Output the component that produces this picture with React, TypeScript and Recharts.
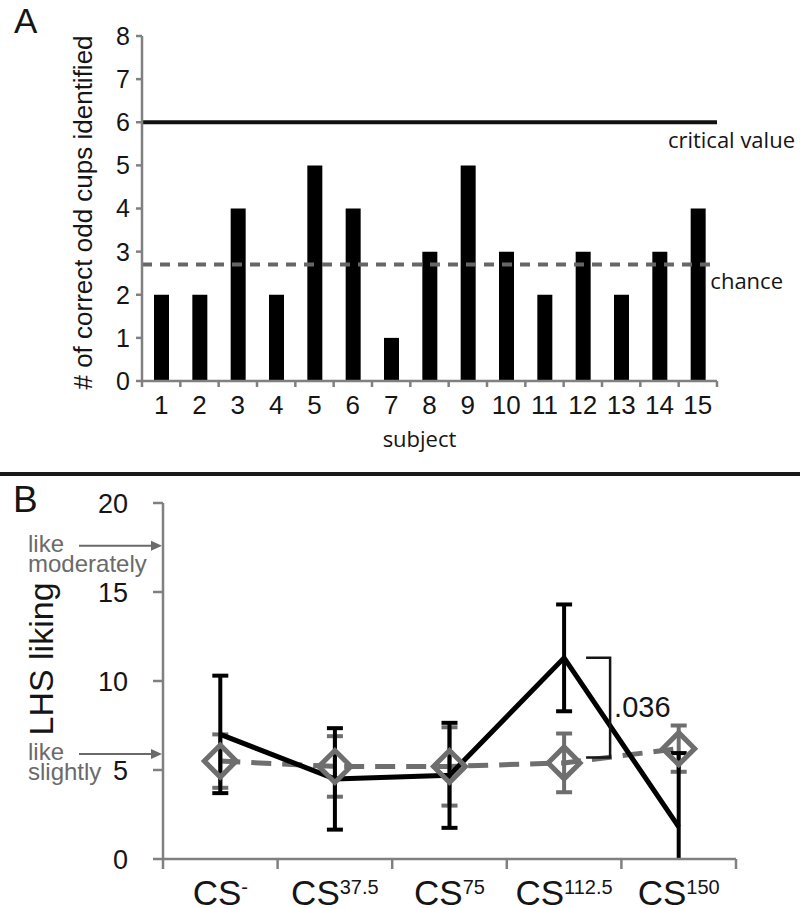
import React from 'react';
import {
  ComposedChart,
  Bar,
  Line,
  ErrorBar,
  XAxis,
  YAxis,
  ReferenceLine,
} from 'recharts';

// ---------- Panel A data ----------
const subjects = ['1', '2', '3', '4', '5', '6', '7', '8', '9', '10', '11', '12', '13', '14', '15'];
const correctCounts = [2, 2, 4, 2, 5, 4, 1, 3, 5, 3, 2, 3, 2, 3, 4];
const yTicksA = [0, 1, 2, 3, 4, 5, 6, 7, 8];
const criticalValue = 6;
const chanceValue = 2.7;

// ---------- Panel B data ----------
const conditionBase = 'CS';
const conditionSup = ['-', '37.5', '75', '112.5', '150'];
const solidMeans = [7.0, 4.5, 4.7, 11.3, 1.8];
const solidErrors = [3.3, 2.85, 2.95, 3.0, 4.15];
const dashedMeans = [5.5, 5.2, 5.2, 5.4, 6.2];
const dashedErrors = [1.5, 1.7, 2.2, 1.65, 1.3];
const yTicksB = [0, 5, 10, 15, 20];
const anchorValues = [17.6, 5.9];
const anchorLines = [
  ['like', 'moderately'],
  ['like', 'slightly'],
];
const bracketTop = 11.3;
const bracketBottom = 5.7;
const pValueText = '.036';

const dataA = subjects.map((s, i) => ({ subject: s, count: correctCounts[i] }));
const dataB = conditionSup.map((sup, i) => ({
  condition: conditionBase + sup,
  solid: solidMeans[i],
  solidErr: solidErrors[i],
  dashed: dashedMeans[i],
  dashedErr: dashedErrors[i],
}));

const ARIAL = '"Liberation Sans", Arial, Helvetica, sans-serif';
const MYRIAD = '"Open Sans", "Noto Sans", sans-serif';
const AXIS_GREY = '#808080';
const TEXT_DARK = '#151515';
const DATA_GREY = '#6e6e6e';
const NOTE_GREY = '#6a6a6a';

// chart B geometry (layout only)
const B_HEIGHT = 430;
const B_TOP_MARGIN = 25;
const B_XAXIS_H = 49;
const B_PLOT_BOTTOM = B_HEIGHT - B_XAXIS_H;

// ---------- ticks ----------
const SubjectTick = (props: any) => {
  const { x, y, payload, index } = props;
  const half = payload && typeof payload.offset === 'number' && payload.offset > 0 ? payload.offset : 19.2;
  const last = index === subjects.length - 1;
  return (
    <g>
      <line x1={x - half} x2={x - half} y1={y} y2={y + 6} stroke={AXIS_GREY} strokeWidth={2.5} />
      {last && <line x1={x + half} x2={x + half} y1={y} y2={y + 6} stroke={AXIS_GREY} strokeWidth={2.5} />}
      <text x={x} y={y + 33} textAnchor="middle" fontSize={26} fontFamily={ARIAL} fill={TEXT_DARK}>
        {payload.value}
      </text>
    </g>
  );
};

const ConditionTick = (props: any) => {
  const { x, y, payload, index } = props;
  const half = payload && typeof payload.offset === 'number' && payload.offset > 0 ? payload.offset : 57.3;
  const last = index === conditionSup.length - 1;
  return (
    <g>
      <line x1={x - half} x2={x - half} y1={y} y2={y + 10} stroke={AXIS_GREY} strokeWidth={2.5} />
      {last && <line x1={x + half} x2={x + half} y1={y} y2={y + 10} stroke={AXIS_GREY} strokeWidth={2.5} />}
      <text x={x} y={y + 46} textAnchor="middle" fontSize={35} fontFamily={ARIAL} fill={TEXT_DARK}>
        {conditionBase}
        <tspan fontSize={20} dy={-11}>
          {conditionSup[index]}
        </tspan>
      </text>
    </g>
  );
};

// ---------- labels ----------
const CriticalLabel = (p: any) => {
  const vb = p.viewBox || {};
  return (
    <text x={vb.x + vb.width + 78} y={vb.y + 26} textAnchor="end" fontSize={22} fontFamily={MYRIAD} fill={TEXT_DARK}>
      critical value
    </text>
  );
};

const ChanceLabel = (p: any) => {
  const vb = p.viewBox || {};
  return (
    <text x={vb.x + vb.width + 66} y={vb.y + 24} textAnchor="end" fontSize={22} fontFamily={MYRIAD} fill={TEXT_DARK}>
      chance
    </text>
  );
};

const SubjectLabel = (p: any) => {
  const vb = p.viewBox || {};
  return (
    <text x={vb.x + vb.width / 2 - 10} y={vb.y + 66} textAnchor="middle" fontSize={22} fontFamily={MYRIAD} fill={TEXT_DARK}>
      subject
    </text>
  );
};

const YLabelA = (p: any) => {
  const vb = p.viewBox || {};
  const cy = vb.y + vb.height / 2 + 4;
  return (
    <text
      transform={`translate(92, ${cy}) rotate(-90)`}
      textAnchor="middle"
      fontSize={26}
      fontFamily={ARIAL}
      fill={TEXT_DARK}
    >
      # of correct odd cups identified
    </text>
  );
};

const YLabelB = (p: any) => {
  const vb = p.viewBox || {};
  const cy = vb.y + vb.height / 2 - 22;
  return (
    <text
      transform={`translate(53, ${cy}) rotate(-90)`}
      textAnchor="middle"
      fontSize={34}
      fontFamily={ARIAL}
      fill={TEXT_DARK}
    >
      LHS liking
    </text>
  );
};

const makeAnchorLabel = (lines: string[]) => (p: any) => {
  const vb = p.viewBox || {};
  const ax = vb.x;
  const ay = vb.y;
  return (
    <g>
      <line x1={ax - 84} x2={ax - 10} y1={ay} y2={ay} stroke={NOTE_GREY} strokeWidth={2} />
      <polygon points={`${ax - 1},${ay} ${ax - 12},${ay - 5} ${ax - 12},${ay + 5}`} fill={NOTE_GREY} />
      <text x={ax - 135} y={ay + 6} fontSize={24} fontFamily={ARIAL} fill={NOTE_GREY}>
        {lines[0]}
      </text>
      <text x={ax - 135} y={ay + 26} fontSize={24} fontFamily={ARIAL} fill={NOTE_GREY}>
        {lines[1]}
      </text>
    </g>
  );
};

const Bracket = (p: any) => {
  const { x1, y1, y2 } = p;
  if (x1 == null || y1 == null || y2 == null) return null;
  const a = x1 + 22;
  const b = x1 + 46;
  return (
    <g>
      <path d={`M${a},${y1} H${b} V${y2} H${a}`} fill="none" stroke={TEXT_DARK} strokeWidth={2.5} />
      <text x={b + 4} y={(y1 + y2) / 2 + 9} fontSize={29} fontFamily={ARIAL} fill={TEXT_DARK}>
        {pValueText}
      </text>
    </g>
  );
};

const Diamond = (props: any) => {
  const { cx, cy, index } = props;
  if (cx == null || cy == null) return null;
  const r = 16;
  return (
    <polygon
      key={`d-${index}`}
      points={`${cx},${cy - r} ${cx + r},${cy} ${cx},${cy + r} ${cx - r},${cy}`}
      fill="none"
      stroke={DATA_GREY}
      strokeWidth={5}
      strokeLinejoin="miter"
    />
  );
};

export default function App() {
  return (
    <div
      style={{
        position: 'absolute',
        left: 0,
        top: 0,
        width: 800,
        height: 908,
        background: '#fff',
        overflow: 'hidden',
      }}
    >
      {/* clip definition for panel B error bars (plot area) */}
      <svg width={0} height={0} style={{ position: 'absolute' }}>
        <defs>
          <clipPath id="plotClipB">
            <rect x={0} y={0} width={800} height={B_PLOT_BOTTOM} />
          </clipPath>
        </defs>
      </svg>

      {/* Panel A */}
      <div style={{ position: 'absolute', left: 0, top: 0 }}>
        <ComposedChart width={800} height={470} data={dataA} margin={{ top: 36, right: 83, bottom: 0, left: 0 }}>
          <XAxis
            dataKey="subject"
            scale="band"
            height={89}
            interval={0}
            tickLine={false}
            tickSize={0}
            tickMargin={0}
            axisLine={{ stroke: AXIS_GREY, strokeWidth: 2.5 }}
            tick={<SubjectTick />}
            label={<SubjectLabel />}
          />
          <YAxis
            width={142}
            domain={[0, 8]}
            ticks={yTicksA}
            interval={0}
            tickSize={6}
            tickMargin={6}
            tickLine={{ stroke: AXIS_GREY, strokeWidth: 2.5 }}
            axisLine={{ stroke: AXIS_GREY, strokeWidth: 2.5 }}
            tick={{ fontSize: 25, fontFamily: ARIAL, fill: TEXT_DARK }}
            label={<YLabelA />}
          />
          <Bar dataKey="count" fill="#000" barSize={15} isAnimationActive={false} />
          <ReferenceLine y={criticalValue} stroke="#111" strokeWidth={4} label={<CriticalLabel />} />
          <ReferenceLine
            y={chanceValue}
            stroke="#666"
            strokeWidth={4}
            strokeDasharray="10 8"
            label={<ChanceLabel />}
          />
        </ComposedChart>
      </div>

      {/* separator */}
      <div style={{ position: 'absolute', left: 0, top: 472, width: 800, height: 4, background: '#1a1a1a' }} />

      {/* Panel B */}
      <div style={{ position: 'absolute', left: 0, top: 478 }}>
        <ComposedChart
          width={800}
          height={B_HEIGHT}
          data={dataB}
          margin={{ top: B_TOP_MARGIN, right: 64, bottom: 0, left: 0 }}
        >
          <XAxis
            dataKey="condition"
            scale="band"
            height={B_XAXIS_H}
            interval={0}
            tickLine={false}
            tickSize={0}
            tickMargin={0}
            axisLine={{ stroke: AXIS_GREY, strokeWidth: 2.5 }}
            tick={<ConditionTick />}
          />
          <YAxis
            width={163}
            domain={[0, 20]}
            ticks={yTicksB}
            interval={0}
            allowDataOverflow
            tickSize={10}
            tickMargin={25}
            tickLine={{ stroke: AXIS_GREY, strokeWidth: 2.5 }}
            axisLine={{ stroke: AXIS_GREY, strokeWidth: 2.5 }}
            tick={{ fontSize: 27, fontFamily: ARIAL, fill: TEXT_DARK }}
            label={<YLabelB />}
          />
          {anchorValues.map((v, i) => (
            <ReferenceLine
              key={`anchor-${i}`}
              y={v}
              stroke="#fff"
              strokeOpacity={0}
              label={makeAnchorLabel(anchorLines[i])}
            />
          ))}
          <Line
            dataKey="dashed"
            stroke={DATA_GREY}
            strokeWidth={5}
            strokeDasharray="20 11"
            dot={<Diamond />}
            activeDot={false}
            isAnimationActive={false}
          >
            <ErrorBar dataKey="dashedErr" width={8} stroke={DATA_GREY} strokeWidth={4} direction="y" />
          </Line>
          <Line
            dataKey="solid"
            stroke="#000"
            strokeWidth={5}
            dot={false}
            activeDot={false}
            isAnimationActive={false}
          >
            <ErrorBar
              dataKey="solidErr"
              width={8}
              stroke="#000"
              strokeWidth={4}
              direction="y"
              clipPath="url(#plotClipB)"
            />
          </Line>
          <ReferenceLine
            segment={[
              { x: conditionBase + conditionSup[3], y: bracketTop },
              { x: conditionBase + conditionSup[3], y: bracketBottom },
            ]}
            shape={(p: any) => <Bracket {...p} />}
          />
        </ComposedChart>
      </div>

      {/* panel letters */}
      <svg width={800} height={908} style={{ position: 'absolute', left: 0, top: 0, pointerEvents: 'none' }}>
        <text x={14} y={33} fontSize={35} fontFamily={ARIAL} fill={TEXT_DARK}>
          A
        </text>
        <text x={13} y={512} fontSize={37} fontFamily={ARIAL} fill={TEXT_DARK}>
          B
        </text>
      </svg>
    </div>
  );
}
